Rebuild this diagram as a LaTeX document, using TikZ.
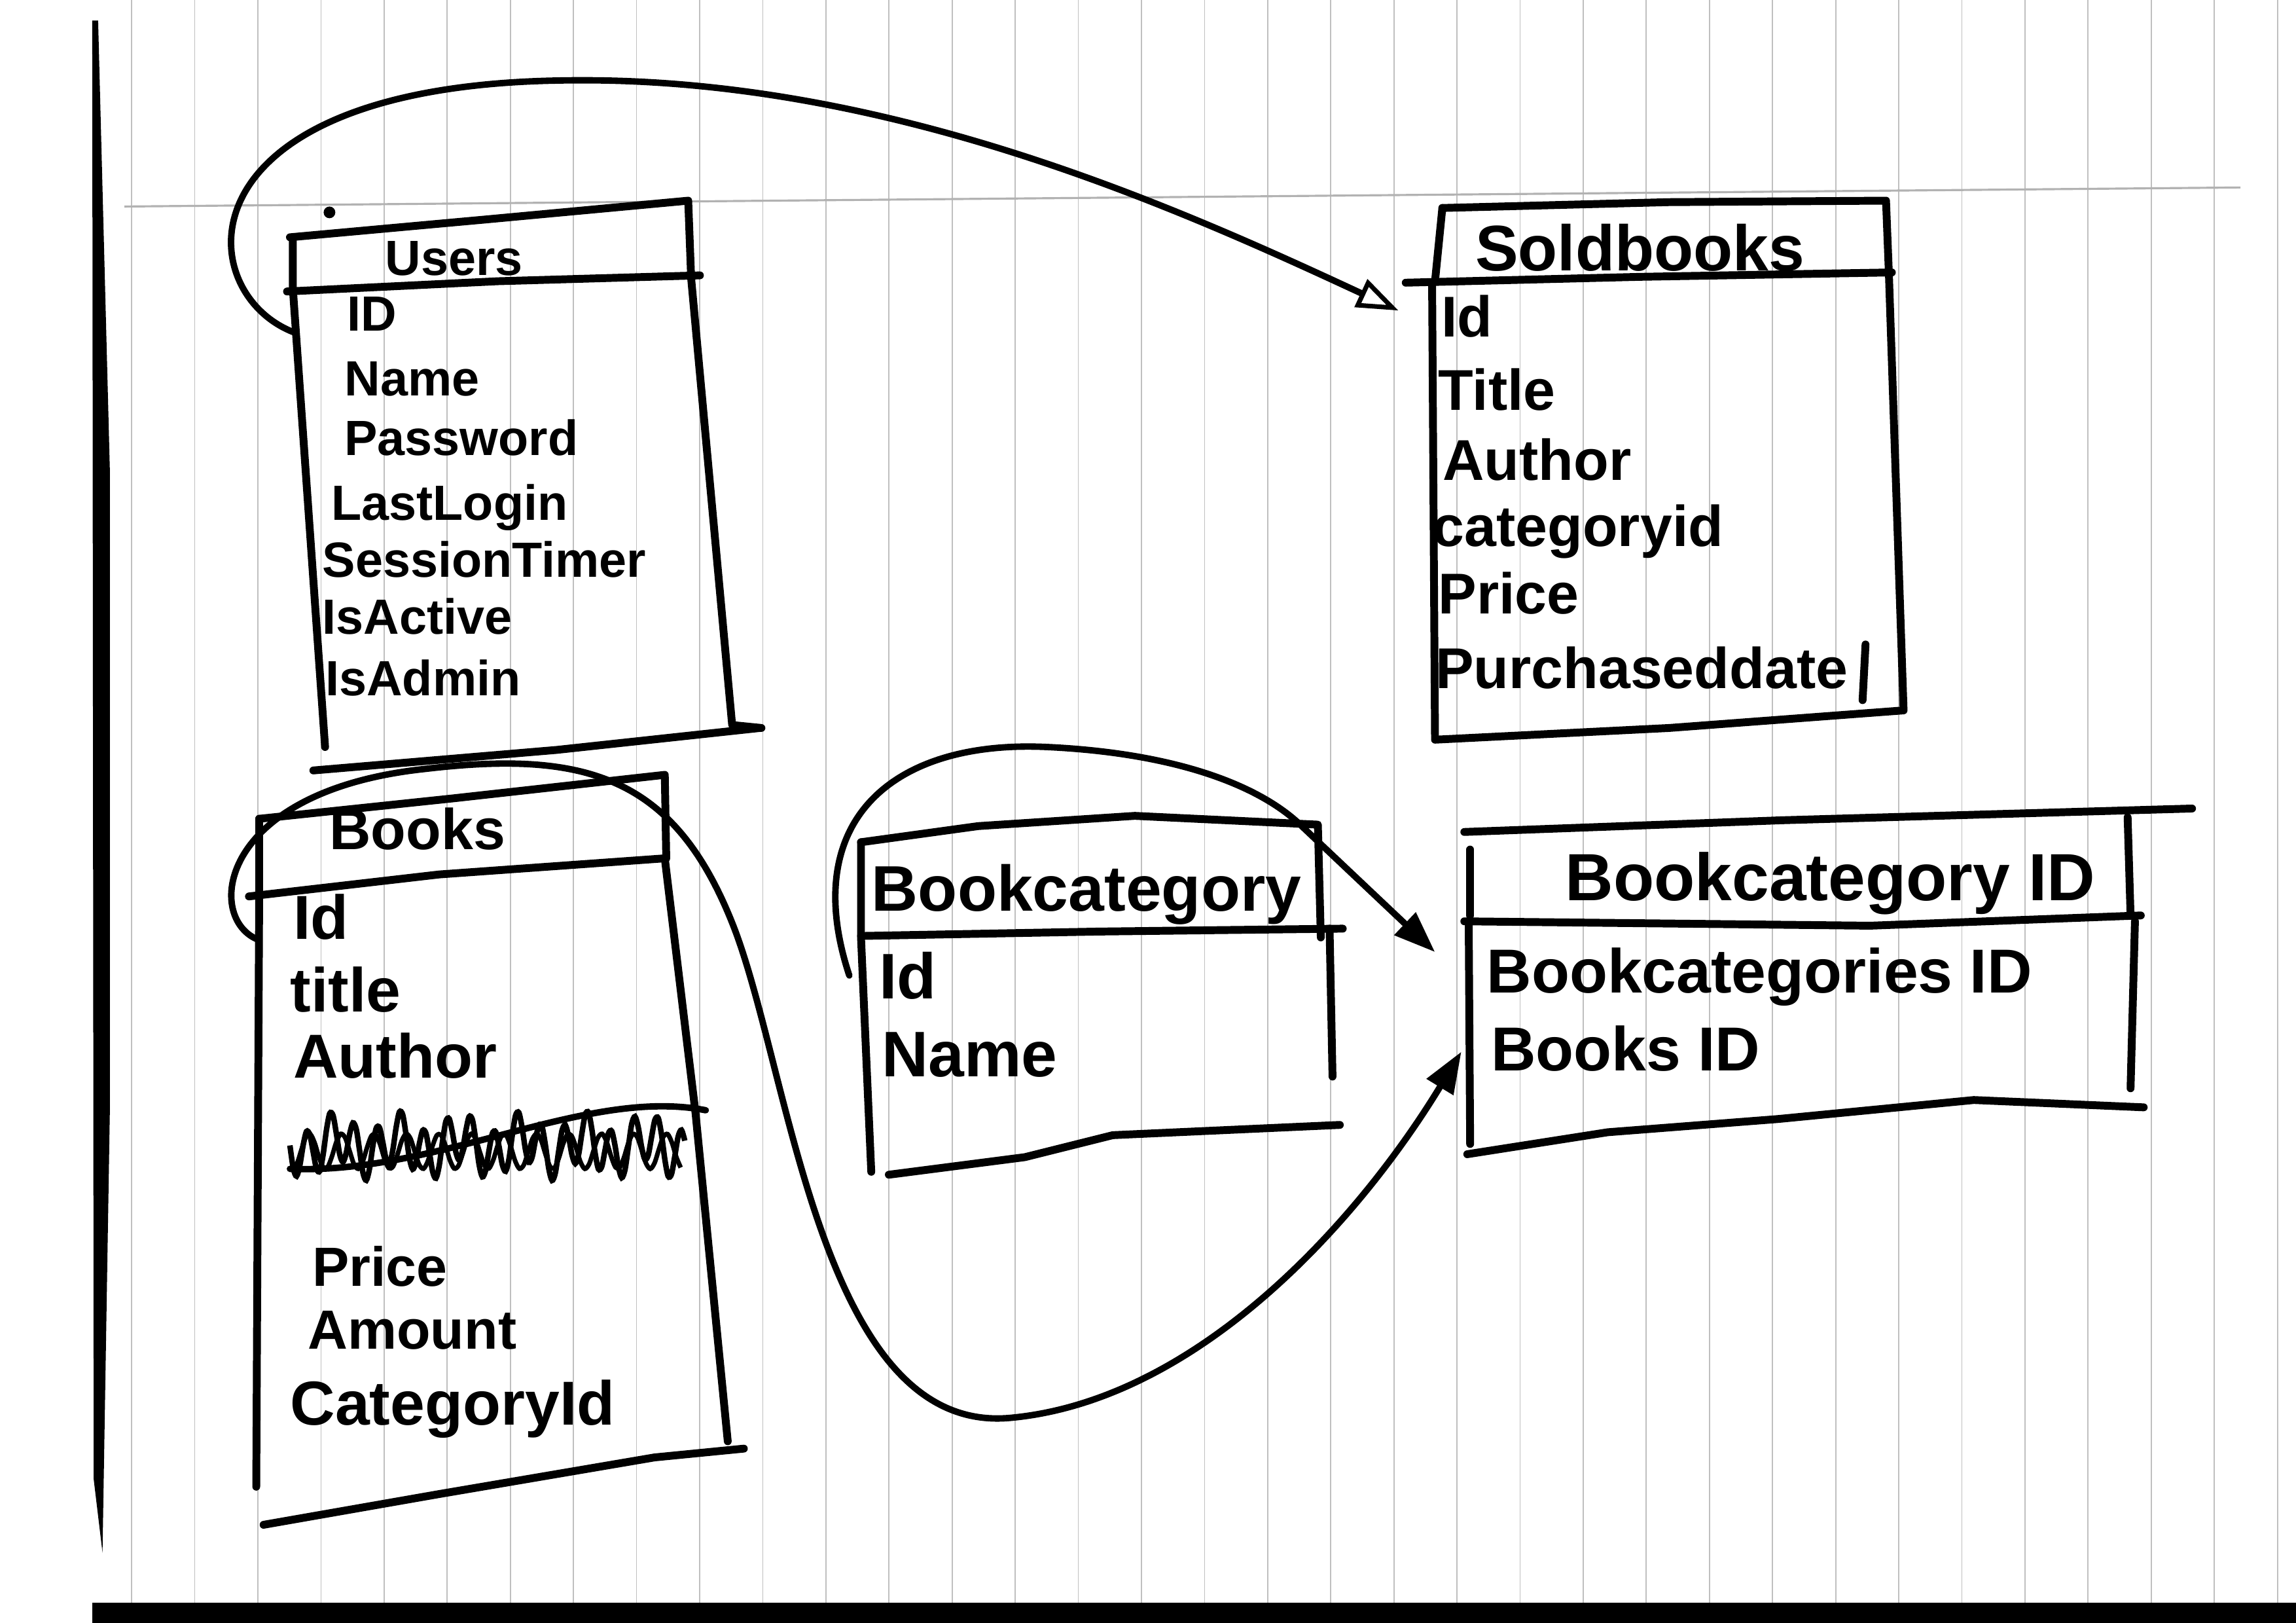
\documentclass[tikz,border=0pt]{standalone}
\usepackage{fontspec}
\setmainfont{Liberation Sans}
\usetikzlibrary{arrows.meta}

\begin{document}
\begin{tikzpicture}[x=0.02237cm,y=-0.02237cm,
  ink/.style={line width=3.4pt,line cap=round,line join=round},
  link/.style={line width=2.8pt,line cap=round},
  paper/.style={gray!50,line width=0.5pt},
  field/.style={anchor=base west,inner sep=0pt},
  head/.style={anchor=base,inner sep=0pt},
  tipopen/.style={-{Triangle[open,length=18pt,width=13pt,line width=2pt]}},
  tipfull/.style={-{Triangle[length=18pt,width=13pt]}}]
\useasboundingbox (0,0) rectangle (1568,1108);
% lined paper
\fill[white] (0,0) rectangle (1568,1108);
\foreach \k in {-21,...,13}
  \draw[paper] ({995+43.1*\k},0) -- ({995+43.1*\k},1094);
\draw[gray!60,line width=0.9pt] (85,141) -- (1530,128);
\fill (63,14) -- (67,14) -- (75,320) -- (75,760) -- (70,1060) -- (64,1010) -- cycle;
\fill (63,1094) rectangle (1568,1108);
\fill (225,145) circle[radius=4];

% Users
\draw[ink] (198,162) -- (330,150) -- (470,137) -- (472,190);
\draw[ink] (200,162) -- (200,197) -- (222,510);
\draw[ink] (196,199) -- (340,192) -- (478,188);
\draw[ink] (472,190) -- (500,495) -- (520,497);
\draw[ink] (214,526) -- (380,512) -- (519,497);
\begin{scope}[font=\fontsize{21.5}{26}\selectfont\bfseries]
  \node[head] (users) at (310,188) {Users};
  \node[field] (uid) at (237,226) {ID};
  \node[field] (uname) at (235,270) {Name};
  \node[field] (upass) at (235,311) {Password};
  \node[field] (ulast) at (226,355) {LastLogin};
  \node[field] (usess) at (220,394) {SessionTimer};
  \node[field] (uact) at (220,433) {IsActive};
  \node[field] (uadm) at (222,475) {IsAdmin};
\end{scope}
\coordinate (uidw) at (201,227);

% Soldbooks
\draw[ink] (985,142) -- (1140,138) -- (1288,137) -- (1290,188);
\draw[ink] (985,142) -- (980,192);
\draw[ink] (960,193) -- (1120,189) -- (1292,186);
\draw[ink] (978,193) -- (980,505) -- (1140,497) -- (1300,485) -- (1290,188);
\draw[ink] (1274,440) -- (1272,478);
\begin{scope}[font=\fontsize{25}{29}\selectfont\bfseries]
  \node[head,font=\fontsize{28}{32}\selectfont\bfseries] (sold) at (1120,185) {Soldbooks};
  \node[field] (sid) at (984,230) {Id};
  \node[field] (stitle) at (982,280) {Title};
  \node[field] (sauth) at (985,328) {Author};
  \node[field] (scat) at (978,373) {categoryid};
  \node[field] (sprice) at (982,419) {Price};
  \node[field] (sdate) at (980,470) {Purchaseddate};
\end{scope}
\coordinate (sidw) at (955,212);

% Books
\draw[ink] (177,559) -- (310,545) -- (454,529) -- (455,586);
\draw[ink] (177,559) -- (177,611);
\draw[ink] (170,612) -- (300,597) -- (454,586);
\draw[ink] (177,611) -- (175,1015);
\draw[ink] (454,586) -- (475,760) -- (497,984);
\draw[ink] (180,1041) -- (300,1020) -- (447,995) -- (508,989);
\begin{scope}[font=\fontsize{27}{31}\selectfont\bfseries]
  \node[head,font=\fontsize{25}{29}\selectfont\bfseries] (books) at (285,580) {Books};
  \node[field] (bid) at (200,641) {Id};
  \node[field] (btitle) at (198,691) {title};
  \node[field] (bauth) at (200,736) {Author};
  \node[field,font=\fontsize{24}{28}\selectfont\bfseries] (bprice) at (213,878) {Price};
  \node[field,font=\fontsize{24}{28}\selectfont\bfseries] (bamt) at (210,921) {Amount};
  \node[field] (bcat) at (198,973) {CategoryId};
\end{scope}
\draw[line width=2.4pt] plot[domain=0:1,samples=120,smooth]
  ({198+270*\x},{782+17*sin(\x*6100)+7*sin(\x*2300)});
\draw[line width=2pt] plot[domain=0:1,samples=90,smooth]
  ({200+265*\x},{786+12*cos(\x*4300)});
\draw[link] (198,798) .. controls (300,802) and (400,742) .. (482,758);
\coordinate (bidw) at (175,641);

% Bookcategory
\draw[ink] (588,575) -- (668,564) -- (775,557) -- (900,563) -- (902,640);
\draw[ink] (588,575) -- (588,640) -- (595,800);
\draw[ink] (588,639) -- (750,636) -- (917,634);
\draw[ink] (908,634) -- (910,735);
\draw[ink] (607,802) -- (700,790) -- (760,775) -- (915,768);
\begin{scope}[font=\fontsize{28}{32}\selectfont\bfseries]
  \node[head] (bcat) at (742,622) {Bookcategory};
  \node[field] (cid) at (600,682) {Id};
  \node[field] (cname) at (602,735) {Name};
\end{scope}
\coordinate (cidw) at (580,666);

% Bookcategory ID
\draw[ink] (1000,568) -- (1217,560) -- (1497,552);
\draw[ink] (1004,580) -- (1004,625);
\draw[ink] (1453,558) -- (1455,625);
\draw[ink] (1000,629) -- (1277,632) -- (1462,625);
\draw[ink] (1003,629) -- (1004,781);
\draw[ink] (1458,629) -- (1455,743);
\draw[ink] (1002,788) -- (1098,773) -- (1214,764) -- (1348,751) -- (1464,756);
\begin{scope}[font=\fontsize{27}{31}\selectfont\bfseries]
  \node[head,font=\fontsize{29}{33}\selectfont\bfseries] (bcid) at (1250,615) {Bookcategory ID};
  \node[field] (jcat) at (1015,678) {Bookcategories ID};
  \node[field] (jbook) at (1018,731) {Books ID};
\end{scope}
\coordinate (jcatw) at (980,650);
\coordinate (jbookw) at (998,718);

% relations
\draw[link,tipopen] (uidw) .. controls (130,200) and (120,60) .. (380,55)
  .. controls (600,50) and (800,140) .. (sidw);
\draw[link,tipfull] (bidw) .. controls (140,625) and (150,540) .. (290,525)
  .. controls (400,512) and (460,530) .. (500,630)
  .. controls (540,730) and (560,980) .. (690,968)
  .. controls (820,956) and (930,830) .. (jbookw);
\draw[link,tipfull] (cidw) .. controls (545,560) and (610,505) .. (715,510)
  .. controls (800,514) and (860,535) .. (890,565) -- (jcatw);
\end{tikzpicture}
\end{document}
